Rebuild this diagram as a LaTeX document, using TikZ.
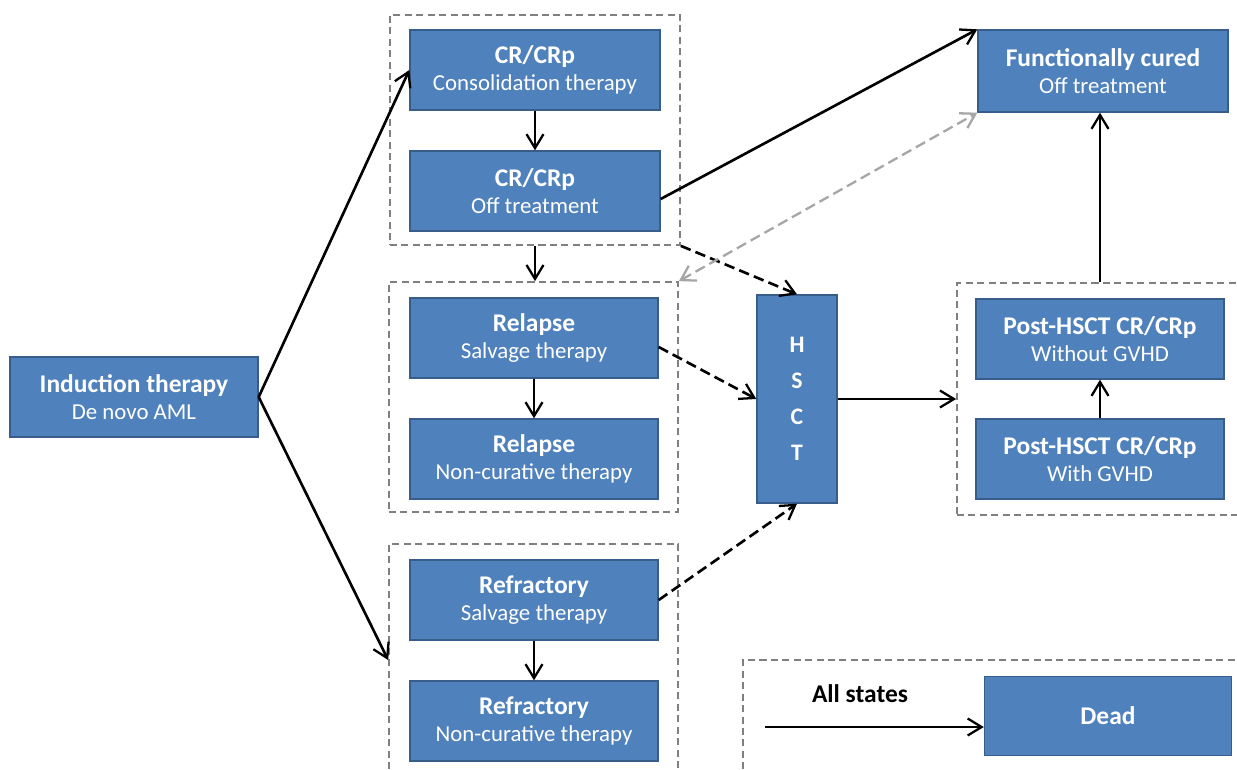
\documentclass[tikz,border=0pt]{standalone}
\usepackage{fontspec}
\setmainfont{Carlito}
\usetikzlibrary{arrows.meta}

\definecolor{boxblue}{RGB}{79,129,189}
\definecolor{boxedge}{RGB}{56,93,138}
\newcommand{\ttl}[1]{{\fontsize{14.5}{16}\selectfont\bfseries #1}}

\begin{document}
\begin{tikzpicture}[x=0.02cm,y=-0.02cm,
  >={Straight Barb[length=2.8mm,width=3.4mm,line width=1.3pt]},
  line width=1.5pt,
  state/.style={draw=boxedge,line width=0.8pt,fill=boxblue,text=white,
    minimum width=5cm,minimum height=1.6cm,align=center,
    font=\fontsize{13}{15.5}\selectfont},
  group/.style={draw=gray,dashed,line width=1pt,dash pattern=on 4pt off 2.5pt},
  pass/.style={->,dashed,dash pattern=on 6pt off 3pt}]

\clip (0,0) rectangle (1237,769);
\fill[white] (0,0) rectangle (1237,769);

% dashed groups
\node[group,minimum width=5.8cm,minimum height=4.6cm] (g1) at (535,130) {};
\node[group,minimum width=5.78cm,minimum height=4.6cm] (g2) at (533.5,397) {};
\node[group,minimum width=5.78cm,minimum height=4.64cm] (g3) at (533.5,660) {};
\node[group,minimum width=5.72cm,minimum height=4.64cm] (g4) at (1100,399) {};
\node[group,minimum width=10.04cm,minimum height=2.32cm] (lg) at (994,718) {};

% states
\node[state,minimum width=4.96cm] (ind) at (134,397) {\ttl{Induction therapy}\\De novo AML};
\node[state] (cr1) at (535,70) {\ttl{CR/CRp}\\Consolidation therapy};
\node[state] (cr2) at (535,191) {\ttl{CR/CRp}\\Off treatment};
\node[state,minimum width=4.96cm] (rs) at (534,338) {\ttl{Relapse}\\Salvage therapy};
\node[state,minimum width=4.96cm] (rn) at (534,459) {\ttl{Relapse}\\Non-curative therapy};
\node[state,minimum width=4.96cm] (fs) at (534,600) {\ttl{Refractory}\\Salvage therapy};
\node[state,minimum width=4.96cm] (fn) at (534,721) {\ttl{Refractory}\\Non-curative therapy};
\node[state,minimum width=1.6cm,minimum height=4.16cm,
  font=\fontsize{13.5}{20.5}\selectfont\bfseries] (hsct) at (797,399) {H\\S\\C\\T};
\node[state,minimum height=1.64cm] (fc) at (1103,71) {\ttl{Functionally cured}\\Off treatment};
\node[state,minimum width=4.96cm] (pwo) at (1100,339) {\ttl{Post-HSCT CR/CRp}\\Without GVHD};
\node[state,minimum width=4.96cm] (pw) at (1100,459) {\ttl{Post-HSCT CR/CRp}\\With GVHD};
\node[state,minimum width=4.94cm,minimum height=1.58cm] (dead) at (1108,716) {\ttl{Dead}};

% transitions
\draw[->] (ind.east) -- (cr1.west);
\draw[->] (ind.east) -- (g3.west);
\draw[->] (cr1.south) -- (cr2.north);
\draw[->] ([yshift=-0.16cm]cr2.east) -- (fc.north west);
\draw[->] (g1.south) -- (g1.south |- g2.north);
\draw[->] (rs.south) -- (rn.north);
\draw[->] (fs.south) -- (fn.north);
\draw[pass] (g1.south east) -- (hsct.north);
\draw[pass] ([yshift=-0.18cm]rs.east) -- (hsct.west);
\draw[pass] (fs.east) -- (hsct.south);
\draw[<->,dashed,dash pattern=on 6pt off 3pt,color=gray!70,line width=1.3pt] (g2.north east) -- (fc.south west);
\draw[->] (hsct.east) -- (g4.west);
\draw[->] (pw.north) -- (pwo.south);
\draw[->] (g4.north) -- (g4.north |- fc.south);

% legend
\coordinate (ls) at (765,727);
\node[font=\fontsize{14.5}{16}\selectfont\bfseries] (all) at (860,694) {All states};
\draw[->] (ls) -- (ls -| dead.west);

\end{tikzpicture}
\end{document}
